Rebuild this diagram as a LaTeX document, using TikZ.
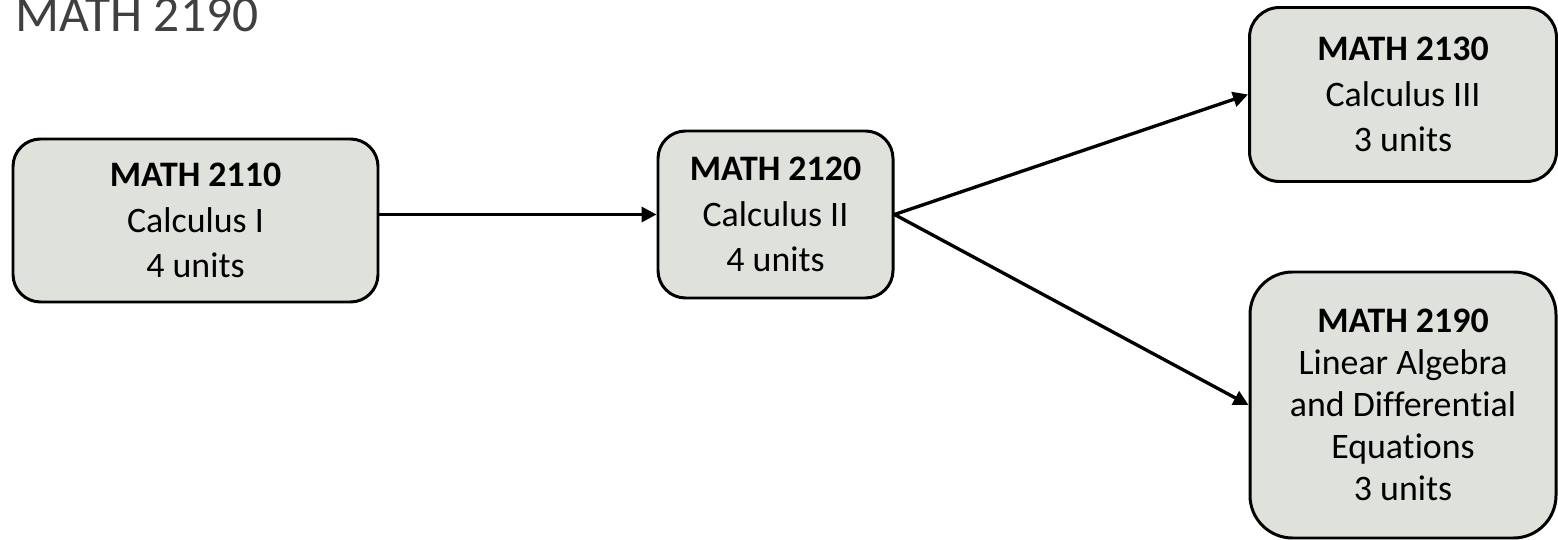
\documentclass[tikz,border=0pt]{standalone}
\usepackage{fontspec}
\setmainfont{Carlito}[Ligatures = NoCommon, RawFeature = {-calt;-dlig}]
\usepackage{tikz}
\usetikzlibrary{arrows.meta}
\usetikzlibrary{positioning}
\definecolor{boxfill}{RGB}{223, 225, 219}
\definecolor{titlegray}{RGB}{64, 64, 64}
\tikzset{course/.style = {draw, line width = 1.7pt, fill = boxfill, align = center,
                          inner sep = 0, font = \fontsize{20.4}{26}\selectfont}}
\tikzset{prereq/.style = {line width = 1.9pt, -{Triangle[length = 8.5pt, width = 8.5pt]}}}

\begin{document}
\begin{tikzpicture}
    \useasboundingbox (0, 0) rectangle (31.16, -10.8);

    \node [anchor = base west, inner sep = 0, text = titlegray,
           font = \fontsize{29.3}{34}\selectfont] (title) at (0.3, -0.64) {MATH 2190};

    \node [course, rounded corners = 0.55cm, minimum width = 7.3cm, minimum height = 3.26cm]
        (calcI) at (3.91, -4.41) {\textbf{MATH 2110}\\Calculus I\\4 units};
    \node [course, rounded corners = 0.55cm, minimum width = 4.7cm, minimum height = 3.34cm]
        (calcII) at (15.51, -4.29) {\textbf{MATH 2120}\\Calculus II\\4 units};
    \node [course, rounded corners = 0.6cm, minimum width = 6.14cm, minimum height = 3.48cm]
        (calcIII) at (28.06, -1.89) {\textbf{MATH 2130}\\Calculus III\\3 units};
    \node [course, rounded corners = 0.85cm, minimum width = 6.12cm, minimum height = 5.32cm,
           font = \fontsize{20.4}{23.8}\selectfont]
        (linalg) at (28.06, -8.10) {\textbf{MATH 2190}\\Linear Algebra\\and Differen\kern0pt tial\\Equations\\3 units};

    \draw [prereq] (calcI.east |- calcII.west) -- (calcII.west);
    \draw [prereq] (calcII.east) -- (calcIII.west);
    \draw [prereq] (calcII.east) -- (linalg.west);

\end{tikzpicture}
\end{document}
